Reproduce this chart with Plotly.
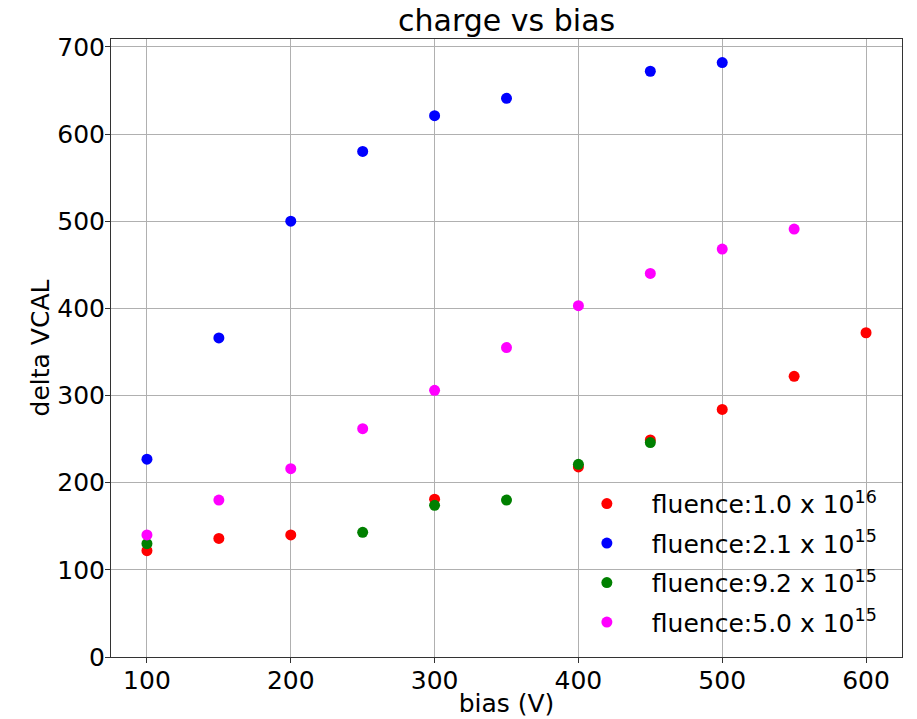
import plotly.graph_objects as go

red_x = [100, 150, 200, 300, 400, 450, 500, 550, 600]
red_y = [122, 136, 140, 181, 218, 249, 284, 322, 372]
blue_x = [100, 150, 200, 250, 300, 350, 450, 500]
blue_y = [227, 366, 500, 580, 621, 641, 672, 682]
green_x = [100, 250, 300, 350, 400, 450]
green_y = [130, 143, 174, 180, 221, 246]
mag_x = [100, 150, 200, 250, 300, 350, 400, 450, 500, 550]
mag_y = [140, 180, 216, 262, 306, 355, 403, 440, 468, 491]

names = ["fluence:1.0 x 10<sup>16</sup>", "fluence:2.1 x 10<sup>15</sup>",
         "fluence:9.2 x 10<sup>15</sup>", "fluence:5.0 x 10<sup>15</sup>"]
colors = ["#ff0000", "#0000ff", "#008000", "#ff00ff"]
series = [(red_x, red_y), (blue_x, blue_y), (green_x, green_y), (mag_x, mag_y)]

FONT = "DejaVu Sans"
fig = go.Figure()
for i, ((xs, ys), n, c) in enumerate(zip(series, names, colors)):
    fig.add_trace(go.Scatter(x=xs, y=ys, mode="markers", name=n, legendgroup=str(i),
                             marker=dict(color=c, size=11, line=dict(width=0))))

axis_common = dict(showgrid=True, gridcolor="#b0b0b0", gridwidth=0.8, automargin=False,
                   showline=True, linecolor="#333333", linewidth=1, mirror=True,
                   ticks="outside", ticklen=5, tickcolor="#333333", zeroline=False,
                   tickfont=dict(family=FONT, size=25, color="black"))
fig.update_layout(
    width=917, height=719,
    margin=dict(l=111, r=15, t=39, b=62),
    paper_bgcolor="white", plot_bgcolor="white",
    font=dict(family=FONT, size=25, color="black"),
    title=dict(text="charge vs bias", x=0.5525, xanchor="center", y=0.972, yanchor="middle",
               font=dict(family=FONT, size=30, color="black")),
    xaxis=dict(range=[75, 625], tickvals=[100, 200, 300, 400, 500, 600],
               ticklabelstandoff=-4,
               title=dict(text="bias (V)", font=dict(family=FONT, size=25), standoff=0),
               **axis_common),
    yaxis=dict(range=[0, 709], tickvals=[0, 100, 200, 300, 400, 500, 600, 700],
               ticklabelstandoff=-5,
               title=dict(text="delta VCAL", font=dict(family=FONT, size=25), standoff=0),
               **axis_common),
    legend=dict(x=0.57, y=0.285, xanchor="left", yanchor="top", bgcolor="rgba(255,255,255,0)",
                borderwidth=0, font=dict(family=FONT, size=25), tracegroupgap=4,
                itemwidth=80),
)
fig.write_html("out.html")
